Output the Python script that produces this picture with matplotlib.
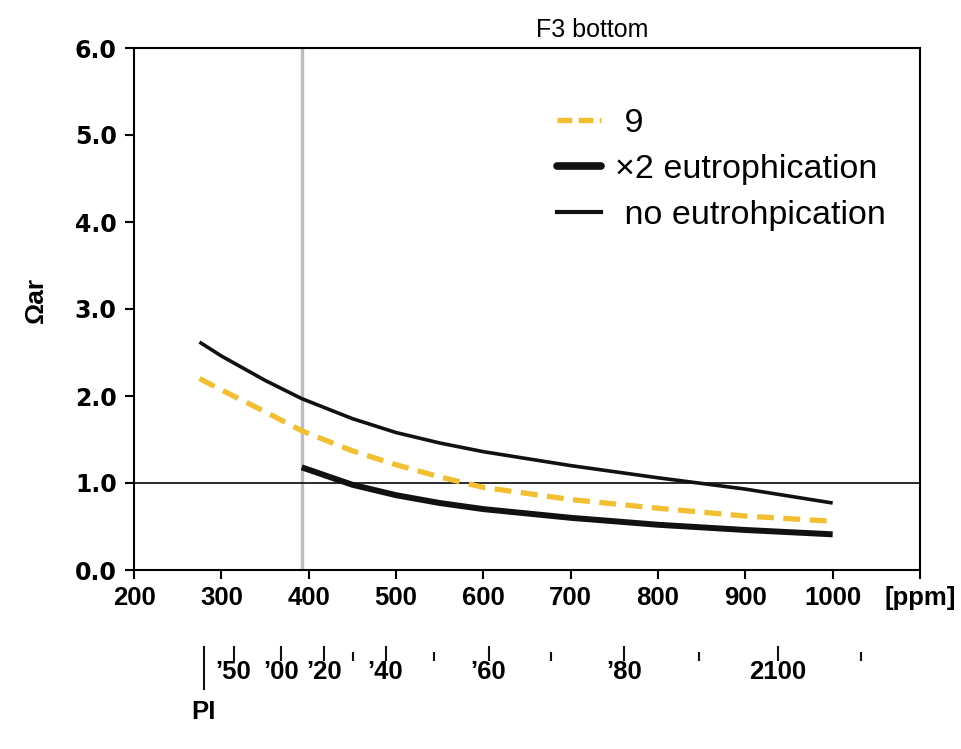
import matplotlib
matplotlib.use('Agg')
import matplotlib.pyplot as plt
from matplotlib.lines import Line2D

plt.rcParams['font.family'] = ['Liberation Sans', 'DejaVu Sans']

# curves: pCO2 [ppm] vs aragonite saturation
ppm_no = [275, 300, 350, 392, 450, 500, 550, 600, 700, 800, 900, 1000]
omega_no = [2.62, 2.46, 2.18, 1.97, 1.74, 1.58, 1.46, 1.36, 1.20, 1.06, 0.93, 0.77]

ppm_9 = [275, 300, 350, 392, 450, 500, 550, 600, 700, 800, 900, 1000]
omega_9 = [2.20, 2.07, 1.82, 1.60, 1.37, 1.21, 1.07, 0.95, 0.81, 0.71, 0.62, 0.56]

ppm_x2 = [392, 450, 500, 550, 600, 700, 800, 900, 1000]
omega_x2 = [1.18, 0.98, 0.86, 0.77, 0.70, 0.60, 0.52, 0.46, 0.41]

ppm_now = 392

xticks = [200, 300, 400, 500, 600, 700, 800, 900, 1000, 1100]
xlabels = ['200', '300', '400', '500', '600', '700', '800', '900', '1000', '[ppm]']
yticks = [0, 1, 2, 3, 4, 5, 6]

# year scale under the ppm axis
year_major_ppm = [314, 368, 418, 488, 606, 761, 937]
year_major_lbl = ['\u201950', '\u201900', '\u201920', '\u201940', '\u201960', '\u201980', '2100']
year_minor_ppm = [451, 544, 678, 847, 1032]
pi_ppm = 280

YELLOW = '#f1bf2f'

W, H = 961, 749
fig = plt.figure(figsize=(W / 100, H / 100), dpi=100)
ax = fig.add_axes([134 / W, 1 - 570 / H, (920 - 134) / W, (570 - 48) / H])

ax.axvline(ppm_now, color='#bdbdbd', lw=2.4, zorder=1)
ax.axhline(1.0, color='#1a1a1a', lw=1.3, zorder=2)

ax.plot(ppm_no, omega_no, color='#111111', lw=2.6, solid_capstyle='butt', zorder=3)
ax.plot(ppm_x2, omega_x2, color='#111111', lw=4.3, solid_capstyle='butt', zorder=3)
ax.plot(ppm_9, omega_9, color=YELLOW, lw=3.8, dashes=(3.2, 1.8), zorder=4)

ax.set_xlim(200, 1100)
ax.set_ylim(0, 6)
ax.set_xticks(xticks)
ax.set_xticklabels(xlabels, fontsize=18.5, fontweight='bold')
ax.set_yticks(yticks)
ax.set_yticklabels(['%.1f' % v for v in yticks], fontsize=17, fontweight='bold', family='DejaVu Sans')
ax.tick_params(direction='out', length=6.5, width=1.5)
ax.tick_params(axis='x', pad=5)
ax.tick_params(axis='y', pad=6)
for s in ax.spines.values():
    s.set_linewidth(1.5)

handles = [
    Line2D([], [], color=YELLOW, lw=3.8, dashes=(2.8, 1.2)),
    Line2D([], [], color='#111111', lw=5.5, solid_capstyle='round'),
    Line2D([], [], color='#111111', lw=3.0),
]
labels = [' 9', '\u00d72 eutrophication', ' no eutrohpication']
ax.legend(handles, labels, loc='upper left', bbox_to_anchor=(0.538, 0.885),
          frameon=False, fontsize=24.5, handlelength=1.3, handletextpad=0.4,
          labelspacing=0.44, borderpad=0, borderaxespad=0)

fig.text(592 / W, 1 - 30 / H, 'F3 bottom', ha='center', va='center', fontsize=18)
fig.text(36 / W, 1 - 300 / H, '\u03a9ar', ha='center', va='center', rotation=90,
         fontsize=19, fontweight='bold')

# second axis holding the year marks, y in pixels below 640
ax2 = fig.add_axes([134 / W, 0, (920 - 134) / W, 109 / H])
ax2.set_xlim(200, 1100)
ax2.set_ylim(109, 0)
ax2.axis('off')
ax2.vlines(year_major_ppm, 6, 21, color='#111111', lw=1.5)
ax2.vlines(year_minor_ppm, 12, 21, color='#111111', lw=1.5)
ax2.vlines([pi_ppm], 6, 50, color='#111111', lw=1.5)
for p, t in zip(year_major_ppm, year_major_lbl):
    ax2.text(p, 20, t, ha='center', va='top', fontsize=18.5, fontweight='bold')
ax2.text(pi_ppm, 60, 'PI', ha='center', va='top', fontsize=18.5, fontweight='bold')

fig.savefig('out.png', dpi=100)
